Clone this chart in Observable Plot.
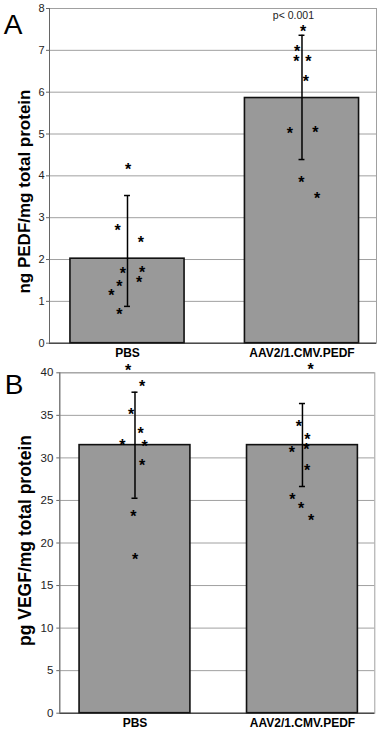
<!DOCTYPE html>
<html><head><meta charset="utf-8">
<script src="https://cdn.jsdelivr.net/npm/d3@7"></script>
<script src="https://cdn.jsdelivr.net/npm/@observablehq/plot@0.6"></script>
<style>
body{margin:0;background:#fff;font-family:"Liberation Sans",Arial,sans-serif}
svg{display:block}
</style>
</head><body><div id="chart"></div>
<script>
// ---- data ----
const categories = ["PBS", "AAV2/1.CMV.PEDF"];

// Panel A: PEDF (ng/mg total protein)
const pedfMean = [2.02, 5.86];
const pedfErrLow = [0.88, 4.39];
const pedfErrHigh = [3.53, 7.36];
const pedfPointsPBS = [4.25, 2.79, 2.49, 1.76, 1.78, 1.44, 1.53, 1.24, 0.78];
const pedfJitterPBS = [0.004, -0.056, 0.076, -0.027, 0.084, -0.046, 0.067, -0.092, -0.046];
const pedfPointsAAV = [7.54, 7.06, 6.83, 6.83, 6.35, 5.09, 5.13, 3.92, 3.54];
const pedfJitterAAV = [0.007, -0.028, -0.032, 0.036, 0.022, -0.070, 0.076, -0.003, 0.087];
const pedfTicks = [0, 1, 2, 3, 4, 5, 6, 7, 8];
const pedfAnnotation = [{cat: 1, offset: -0.049, value: 7.82, label: "p< 0.001"}];

// Panel B: VEGF (pg/mg total protein)
const vegfMean = [31.5, 31.5];
const vegfErrLow = [25.26, 26.64];
const vegfErrHigh = [37.72, 36.39];
const vegfPointsPBS = [40.66, 38.78, 35.57, 33.3, 31.85, 31.78, 29.6, 23.5, 18.5];
const vegfJitterPBS = [-0.041, 0.043, -0.023, 0.033, -0.075, 0.057, 0.043, -0.009, 0.001];
const vegfPointsAAV = [40.78, 34.16, 32.63, 31.1, 31.38, 28.9, 25.58, 24.44, 23.11];
const vegfJitterAAV = [0.048, -0.022, 0.030, -0.064, 0.024, 0.028, -0.061, -0.008, 0.052];
const vegfTicks = [0, 5, 10, 15, 20, 25, 30, 35, 40];

function panel(o) {
  const rows = categories.map((c, i) => ({i, cat: c, mean: o.mean[i], lo: o.lo[i], hi: o.hi[i]}));
  const stars = o.points.flatMap((vals, i) => vals.map((v, j) => ({x: i + o.jitter[i][j], y: v})));
  const marks = [
    Plot.gridY(o.ticks, {stroke: "#a0a0a0", strokeOpacity: 1}),
    Plot.frame({stroke: "#a0a0a0"}),
    Plot.rectY(rows, {x1: d => d.i - o.half, x2: d => d.i + o.half, y1: 0, y2: "mean", fill: "#999999", stroke: "#111", strokeWidth: 1.6}),
    Plot.ruleX(rows, {x: "i", y1: "lo", y2: "hi", stroke: "#000", strokeWidth: 1.5}),
    Plot.ruleY(rows, {x1: d => d.i - o.cap, x2: d => d.i + o.cap, y: "lo", stroke: "#000", strokeWidth: 1.5}),
    Plot.ruleY(rows, {x1: d => d.i - o.cap, x2: d => d.i + o.cap, y: "hi", stroke: "#000", strokeWidth: 1.5}),
    Plot.text(stars, {x: "x", y: "y", text: () => "*", fontSize: 16, fontWeight: "bold", fill: "#000", dy: 4.1}),
    Plot.ruleY([0], {stroke: "#222", strokeWidth: 1}),
    Plot.ruleX([o.xDomain[0]], {stroke: "#666"}),
    Plot.axisY({ticks: o.ticks, tickSize: 3, tickPadding: o.ytp, fontSize: o.tickFont, stroke: "#666", fill: "#222", label: null}),
    Plot.axisX({ticks: [0, 1], tickFormat: i => categories[i], tickSize: 0, tickPadding: o.xtp, fontSize: 12, fontWeight: "bold", fill: "#000", label: null}),
    Plot.text([o.title], {text: d => d, frameAnchor: "left", textAnchor: "middle", lineAnchor: "middle", rotate: -90, dx: o.tdx, dy: o.tdy, fontSize: o.titleFont, fontWeight: "bold", fill: "#000"}),
    Plot.text([o.letter], {text: d => d, frameAnchor: "top-left", textAnchor: "middle", lineAnchor: "middle", dx: o.ldx, dy: o.ldy, fontSize: 28, fill: "#000"})
  ];
  if (o.annotation) {
    marks.push(Plot.text(o.annotation, {x: d => d.cat + d.offset, y: "value", text: "label", fontSize: 10.5, fill: "#222"}));
  }
  return Plot.plot({
    width: 380, height: o.height,
    marginLeft: o.ml, marginRight: o.mr, marginTop: o.mt, marginBottom: o.mb,
    x: {domain: o.xDomain, axis: null},
    y: {domain: o.yDomain, axis: null},
    style: {fontFamily: "'Liberation Sans', Arial, sans-serif", background: "#fff", overflow: "visible"},
    marks
  });
}

const chart = document.getElementById("chart");
chart.append(panel({
  height: 363, ml: 49, mr: 4, mt: 8, mb: 20.3,
  xDomain: [-0.447, 1.427], yDomain: [0, 8], ticks: pedfTicks,
  mean: pedfMean, lo: pedfErrLow, hi: pedfErrHigh,
  points: [pedfPointsPBS, pedfPointsAAV], jitter: [pedfJitterPBS, pedfJitterAAV],
  half: 0.327, cap: 0.017, ytp: 2, xtp: 5.5, tickFont: 11,
  title: "ng PEDF/mg total protein", titleFont: 17, tdx: -25.1, tdy: 15.7,
  letter: "A", ldx: -36.3, ldy: 16.4,
  annotation: pedfAnnotation
}));
chart.append(panel({
  height: 366, ml: 59.3, mr: 5.7, mt: 9.3, mb: 16.3,
  xDomain: [-0.449, 1.432], yDomain: [0, 40], ticks: vegfTicks,
  mean: vegfMean, lo: vegfErrLow, hi: vegfErrHigh,
  points: [vegfPointsPBS, vegfPointsAAV], jitter: [vegfJitterPBS, vegfJitterAAV],
  half: 0.331, cap: 0.018, ytp: 3.5, xtp: 4.8, tickFont: 11.5,
  title: "pg VEGF/mg total protein", titleFont: 17.5, tdx: -34.5, tdy: -2.5,
  letter: "B", ldx: -45.6, ldy: 12.1
}));
</script>
</body></html>
